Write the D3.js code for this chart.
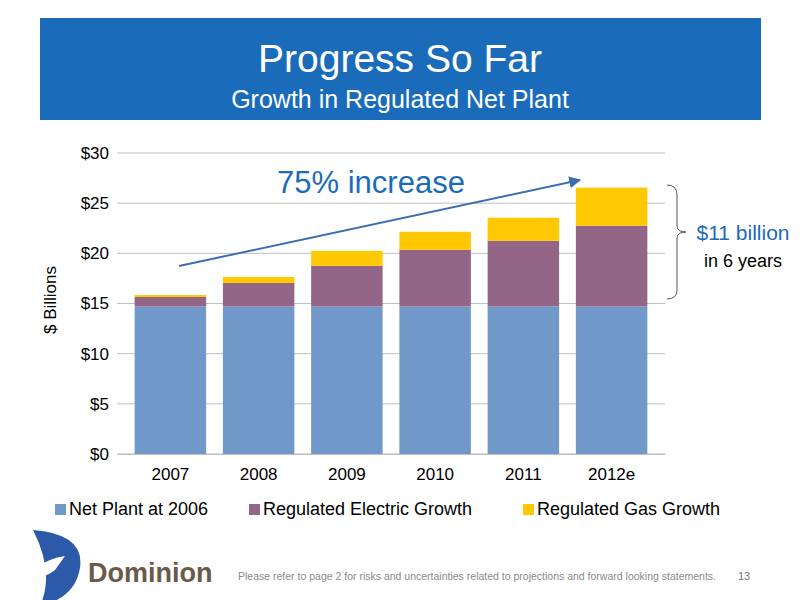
<!DOCTYPE html>
<html><head><meta charset="utf-8">
<script src="https://cdn.jsdelivr.net/npm/d3@7"></script>
<style>body{margin:0;background:#fff}svg{font-family:"Liberation Sans",Arial,sans-serif}</style>
</head><body><div id="chart"></div>
<script>
const years = ['2007', '2008', '2009', '2010', '2011', '2012e'];
const netPlant2006 = [14.7, 14.7, 14.7, 14.7, 14.7, 14.7];
const electricGrowth = [0.95, 2.35, 4.05, 5.65, 6.55, 8.05];
const gasGrowth = [0.2, 0.6, 1.5, 1.8, 2.3, 3.8];
const yTicks = [0, 5, 10, 15, 20, 25, 30];
const seriesNames = ['Net Plant at 2006', 'Regulated Electric Growth', 'Regulated Gas Growth'];
const colors = ['#7099c9', '#936688', '#ffc800'];

const svg = d3.select('#chart').append('svg').attr('width', 800).attr('height', 600);

// title block
svg.append('rect').attr('x', 40).attr('y', 18).attr('width', 721).attr('height', 102).attr('fill', '#1a6cbb');
svg.append('text').attr('x', 400).attr('y', 72).attr('text-anchor', 'middle').attr('fill', '#fff')
  .attr('font-size', 39).text('Progress So Far');
svg.append('text').attr('x', 400).attr('y', 108).attr('text-anchor', 'middle').attr('fill', '#fff')
  .attr('font-size', 25).text('Growth in Regulated Net Plant');

const x = d3.scaleBand().domain(years).range([117, 665]).paddingInner(0.19).paddingOuter(0.2);
const y = d3.scaleLinear().domain([0, 30]).range([454, 153]);

// gridlines
svg.append('g').selectAll('line').data(yTicks).join('line')
  .attr('x1', 117).attr('x2', 665).attr('y1', d => y(d)).attr('y2', d => y(d))
  .attr('stroke', '#bfbfbf').attr('stroke-width', 1);

const rows = years.map((yr, i) => ({ year: yr, a: netPlant2006[i], b: electricGrowth[i], c: gasGrowth[i] }));
const stack = d3.stack().keys(['a', 'b', 'c'])(rows);
svg.append('g').selectAll('g').data(stack).join('g').attr('fill', (d, i) => colors[i])
  .selectAll('rect').data(d => d).join('rect')
  .attr('x', d => x(d.data.year)).attr('width', x.bandwidth())
  .attr('y', d => y(d[1])).attr('height', d => y(d[0]) - y(d[1]));

// axes
const ya = svg.append('g').attr('transform', 'translate(117,0)')
  .call(d3.axisLeft(y).tickValues(yTicks).tickFormat(d => '$' + d).tickSize(0).tickPadding(8));
ya.select('.domain').remove();
ya.selectAll('text').attr('font-size', 17).attr('fill', '#000').attr('font-family', 'Liberation Sans, Arial');
const xa = svg.append('g').attr('transform', 'translate(0,454)')
  .call(d3.axisBottom(x).tickSize(0).tickPadding(14));
xa.select('.domain').attr('stroke', '#bfbfbf');
xa.selectAll('text').attr('font-size', 17).attr('fill', '#000').attr('font-family', 'Liberation Sans, Arial');

svg.append('text').attr('transform', 'translate(56,300) rotate(-90)').attr('text-anchor', 'middle')
  .attr('font-size', 17).text('$ Billions');

// arrow annotation
svg.append('defs').append('marker').attr('id', 'ah').attr('viewBox', '0 0 10 10').attr('refX', 9).attr('refY', 5)
  .attr('markerWidth', 6).attr('markerHeight', 6).attr('orient', 'auto')
  .append('path').attr('d', 'M0,0L10,5L0,10z').attr('fill', '#3d6fb0');
svg.append('line').attr('x1', 179).attr('y1', 266).attr('x2', 580).attr('y2', 180)
  .attr('stroke', '#3d6fb0').attr('stroke-width', 2).attr('marker-end', 'url(#ah)');
svg.append('text').attr('x', 371).attr('y', 193).attr('text-anchor', 'middle').attr('fill', '#1a6cbb')
  .attr('font-size', 31).text('75% increase');

// brace
svg.append('path').attr('d', 'M667,185 Q677,185 677,195 L677,226 Q677,232 686,232 Q677,232 677,238 L677,290 Q677,299 667,299')
  .attr('fill', 'none').attr('stroke', '#555').attr('stroke-width', 1);
svg.append('text').attr('x', 743).attr('y', 240).attr('text-anchor', 'middle').attr('fill', '#1a6cbb')
  .attr('font-size', 21).text('$11 billion');
svg.append('text').attr('x', 743).attr('y', 267).attr('text-anchor', 'middle')
  .attr('font-size', 18).text('in 6 years');

// legend
const lx = [55, 249, 523];
const lg = svg.append('g').selectAll('g').data(seriesNames).join('g')
  .attr('transform', (d, i) => `translate(${lx[i]},514)`);
lg.append('rect').attr('y', -10).attr('width', 11).attr('height', 11).attr('fill', (d, i) => colors[i]);
lg.append('text').attr('x', 14).attr('y', 1).attr('font-size', 18).text(d => d);

// footer
const logo = svg.append('g').attr('transform', 'translate(25,528)');
logo.append('path').attr('d', 'M8,2 Q60,6 55,40 Q50,70 15,78 Q30,45 8,2z').attr('fill', '#2c5aa8');
logo.append('path').attr('d', 'M10,40 Q25,30 40,28 L30,42 Q20,50 12,48z').attr('fill', '#fff');
svg.append('text').attr('x', 88).attr('y', 582).attr('font-size', 27).attr('font-weight', 'bold')
  .attr('fill', '#6b5a48').text('Dominion');
svg.append('text').attr('x', 238).attr('y', 580).attr('font-size', 10.5).attr('fill', '#8a8a8a')
  .text('Please refer to page 2 for risks and uncertainties related to projections and forward looking statements.');
svg.append('text').attr('x', 738).attr('y', 580).attr('font-size', 11).attr('fill', '#777').text('13');
</script></body></html>
